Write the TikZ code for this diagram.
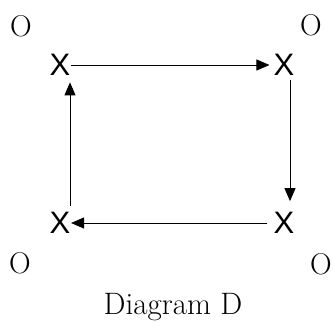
\documentclass[tikz,border=0pt]{standalone}
\usepackage{fontspec}
\usetikzlibrary{arrows.meta}
\newfontfamily\xfont{Liberation Sans}
\tikzset{
  xmark/.style={inner sep=0pt,font=\xfont\fontsize{31}{35}\selectfont},
  omark/.style={inner sep=0pt,font=\fontsize{30}{34}\selectfont},
  flow/.style={line width=.9pt,-{Triangle[length=13pt,width=11pt]}}
}
\begin{document}
\begin{tikzpicture}[x=1pt,y=-1pt]
\useasboundingbox (0,0) rectangle (333,322);
\node[omark] (otl) at (21,26) {O};
\node[omark] (otr) at (311,25) {O};
\node[omark] (obl) at (20,263) {O};
\node[omark] (obr) at (321,264) {O};
\node[xmark] (xtl) at (60,65) {X};
\node[xmark] (xtr) at (284,65) {X};
\node[xmark] (xbl) at (60,223) {X};
\node[xmark] (xbr) at (284,223) {X};
\draw[flow,shorten <=0.5pt,shorten >=4pt] (xtl.east) -- (xtr.west);
\draw[flow,shorten <=4pt,shorten >=11pt] ([xshift=6pt]xtr.south) -- ([xshift=6pt]xbr.north);
\draw[flow,shorten <=6pt,shorten >=0.5pt] (xbr.west) -- (xbl.east);
\draw[flow,shorten <=6.5pt,shorten >=6.5pt] ([xshift=10pt]xbl.north) -- ([xshift=10pt]xtl.south);
\node[font=\fontsize{31}{35}\selectfont,inner sep=0pt,anchor=base] (cap) at (173,314) {Diagram D};
\end{tikzpicture}
\end{document}
